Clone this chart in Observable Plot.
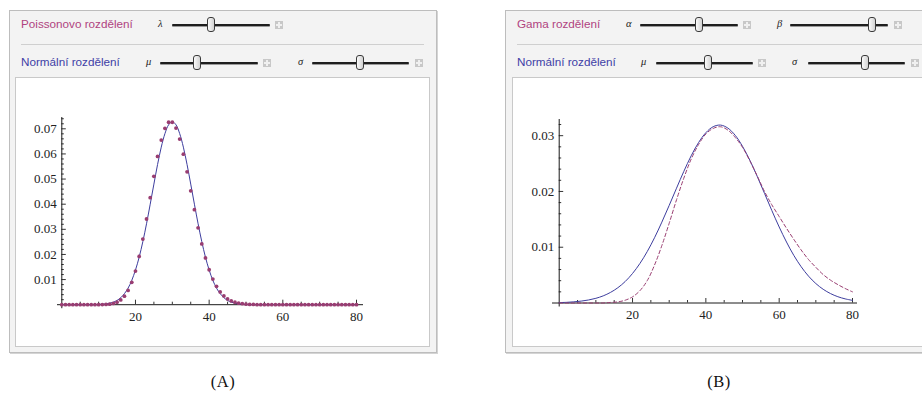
<!DOCTYPE html>
<html><head><meta charset="utf-8">
<script src="https://cdn.jsdelivr.net/npm/d3@7"></script>
<script src="https://cdn.jsdelivr.net/npm/@observablehq/plot@0.6"></script>
<style>
body{margin:0;background:#fff;}
#root{position:relative;width:922px;height:396px;overflow:hidden;font-family:"Liberation Sans",Arial,sans-serif;}
.panel{position:absolute;top:10px;background:#f3f3f3;border:1px solid #bdbdbd;box-shadow:1px 1px 0 #d4d4d4;}
.inner{position:absolute;background:#fff;border:1px solid #c9c9c9;}
.lbl{position:absolute;font-size:11.7px;line-height:14px;white-space:nowrap;}
.sym{position:absolute;font-family:"Liberation Serif",serif;font-style:italic;font-size:10.5px;line-height:12px;color:#222;}
.track{position:absolute;height:2px;background:#1e1e1e;border-radius:1px;box-shadow:0 1px 0 #9a9a9a;}
.thumb{position:absolute;width:6px;height:13px;border:1px solid #3a3a3a;border-radius:3px;background:linear-gradient(90deg,#fafafa,#d2d2d2);}
.plus{position:absolute;width:8px;height:8px;background:#c8c8c8;}
.plus:before{content:"";position:absolute;left:3px;top:1px;width:2px;height:6px;background:#f0f0f0;}
.plus:after{content:"";position:absolute;left:1px;top:3px;width:6px;height:2px;background:#f0f0f0;}
.sep{position:absolute;height:1px;background:#cfcfcf;}
.cap{position:absolute;font-family:"Liberation Serif",serif;font-size:16.5px;line-height:18px;color:#111;transform:translateX(-50%);letter-spacing:0.5px;}
.chart{position:absolute;}
</style></head>
<body><div id="root"></div>
<script>
// ---- data ----
const poissonK = d3.range(0, 81);
const poissonP = [0,0,0,0,0,0,0,0,0,0,
  0.00001,0.00004,0.0001,0.0002,0.0005,0.0010,0.0019,0.0034,0.0057,0.0089,
  0.0134,0.0192,0.0261,0.0341,0.0426,0.0511,0.0590,0.0655,0.0702,0.0726,
  0.0726,0.0703,0.0659,0.0599,0.0529,0.0453,0.0378,0.0306,0.0242,0.0186,
  0.0139,0.0102,0.0073,0.0051,0.0035,0.0023,0.0015,0.0010,0.0006,0.0004,
  0.0002,0.0001,0.0001,0,0,0,0,0,0,0,
  0,0,0,0,0,0,0,0,0,0,
  0,0,0,0,0,0,0,0,0,0,0];
const normalAX = d3.range(0, 81);
const normalAY = [0,0,0,0,0,0,0,0,0,0,
  0.0001,0.0002,0.0003,0.0006,0.0010,0.0017,0.0028,0.0044,0.0066,0.0097,
  0.0138,0.0189,0.0251,0.0322,0.0400,0.0480,0.0558,0.0627,0.0681,0.0716,
  0.0728,0.0716,0.0681,0.0627,0.0558,0.0480,0.0400,0.0322,0.0251,0.0189,
  0.0138,0.0097,0.0066,0.0044,0.0028,0.0017,0.0010,0.0006,0.0003,0.0002,
  0.0001,0,0,0,0,0,0,0,0,0,
  0,0,0,0,0,0,0,0,0,0,
  0,0,0,0,0,0,0,0,0,0,0];
const curveBX = d3.range(0, 81, 2);
const normalBY = [0.00007,0.00012,0.00021,0.00034,0.00054,0.00084,0.00128,0.00190,0.00274,0.00385,
  0.00529,0.00707,0.00921,0.01170,0.01450,0.01750,0.02058,0.02361,0.02639,0.02875,
  0.03053,0.03161,0.03190,0.03136,0.03007,0.02809,0.02559,0.02272,0.01966,0.01658,
  0.01363,0.01093,0.00853,0.00650,0.00482,0.00349,0.00246,0.00169,0.00113,0.00074,0.00047];
const gammaBY = [0,0,0,0,0,0,0,0.0001,0.0002,0.0005,
  0.0011,0.0022,0.0040,0.0068,0.0103,0.0143,0.0185,0.0224,0.0258,0.0284,
  0.0303,0.0313,0.0316,0.0310,0.0297,0.0279,0.0255,0.0228,0.0200,0.0176,
  0.0155,0.0134,0.0114,0.0095,0.0078,0.0064,0.0051,0.0041,0.0033,0.0026,0.0020];
const xMajor = [20, 40, 60, 80];
const xMinor = [5,10,15,25,30,35,45,50,55,65,70,75];
const yMajorA = [0.01,0.02,0.03,0.04,0.05,0.06,0.07];
const yMajorB = [0.01,0.02,0.03];
const captions = ["(A)", "(B)"];

const BLUE = "#3d3d9e", MAG = "#993d71";
const root = document.getElementById("root");
function el(cls, css, text){ const d=document.createElement("div"); d.className=cls; Object.assign(d.style, css); if(text!=null) d.textContent=text; root.appendChild(d); return d; }
function px(v){ return v + "px"; }
function slider(sym, symX, x1, x2, tx, plusX, cy){
  el("sym", {left:px(symX), top:px(cy-7)}, sym);
  el("track", {left:px(x1), top:px(cy-1), width:px(x2-x1)});
  el("thumb", {left:px(tx-4), top:px(cy-7.5)});
  el("plus", {left:px(plusX-4), top:px(cy-4)});
}
function minors(maxV){ const out=[]; for(let i=1;i*0.002<=maxV+1e-9;i++){ if(i%5!==0) out.push(+(i*0.002).toFixed(3)); } return out; }

// panels
el("panel", {left:"9px", width:"426px", height:"341px"});
el("inner", {left:"15px", top:"77px", width:"413px", height:"268px"});
el("panel", {left:"505px", width:"500px", height:"341px"});
el("inner", {left:"512px", top:"77px", width:"500px", height:"268px"});

// left controls
el("lbl", {left:"21px", top:"17px", color:"#b0437f"}, "Poissonovo rozdělení");
slider("λ", 158, 172, 270, 211, 278.5, 24.5);
el("sep", {left:"21px", top:"44px", width:"403px"});
el("lbl", {left:"21px", top:"55px", color:"#4040a6"}, "Normální rozdělení");
slider("μ", 146, 160, 258, 197, 266.5, 62.5);
slider("σ", 298, 312, 409, 360, 418.5, 62.5);

// right controls
el("lbl", {left:"517px", top:"17px", color:"#b0437f"}, "Gama rozdělení");
slider("α", 626, 640, 738, 699, 746.5, 24.5);
slider("β", 777, 790, 888, 872, 897.5, 24.5);
el("sep", {left:"517px", top:"44px", width:"420px"});
el("lbl", {left:"517px", top:"55px", color:"#4040a6"}, "Normální rozdělení");
slider("μ", 641, 656, 753, 708, 761.5, 62.5);
slider("σ", 792, 808, 905, 865, 914.5, 62.5);

el("cap", {left:"223px", top:"373px"}, captions[0]);
el("cap", {left:"719px", top:"373px"}, captions[1]);

function axes(yMajor, yMinor, ins){
  return [
    Plot.axisX({ticks:xMinor, tickSize:2.5, dy:-2.5, fill:"none", label:null, stroke:"#333"}),
    Plot.axisX({ticks:xMajor, tickSize:4.5, dy:-4.5, fill:"none", label:null, stroke:"#333"}),
    Plot.axisX({ticks:xMajor, tickSize:0, tickPadding:7, stroke:"none", label:null, tickFormat:d=>String(d)}),
    Plot.axisY({ticks:yMinor, tickSize:2.5, dx:2.5, fill:"none", label:null, stroke:"#333"}),
    Plot.axisY({ticks:yMajor, tickSize:4.5, dx:4.5, fill:"none", label:null, stroke:"#333"}),
    Plot.axisY({ticks:yMajor, tickSize:0, tickPadding:5, stroke:"none", label:null, tickFormat:d=>d.toFixed(2)}),
    Plot.ruleY([0], {insetLeft:ins[0], insetRight:ins[1], stroke:"#1a1a1a"}),
    Plot.ruleX([0], {insetBottom:-4, stroke:"#1a1a1a"})
  ];
}
const style = {fontFamily:"'Liberation Serif', serif", fontSize:"13px", color:"#222", background:"transparent", overflow:"visible"};

const dataA = poissonK.map((k,i)=>({x:k, y:poissonP[i]}));
const lineA = normalAX.map((x,i)=>({x, y:normalAY[i]}));
const chartA = Plot.plot({
  width:415, height:270, marginLeft:46.3, marginRight:74, marginTop:40, marginBottom:42.8,
  x:{domain:[0,80]}, y:{domain:[0,0.0745]}, style,
  marks:[
    ...axes(yMajorA, minors(0.0745), [-4.3,-7]),
    Plot.line(lineA, {x:"x", y:"y", stroke:BLUE, strokeWidth:1, curve:"catmull-rom"}),
    Plot.dot(dataA, {x:"x", y:"y", r:1.9, fill:MAG, stroke:"none"})
  ]
});
chartA.classList.add("chart"); chartA.style.left="15px"; chartA.style.top="77px";
root.appendChild(chartA);

const normB = curveBX.map((x,i)=>({x, y:normalBY[i]}));
const gamB = curveBX.map((x,i)=>({x, y:gammaBY[i]}));
const chartB = Plot.plot({
  width:410, height:270, marginLeft:46.7, marginRight:70, marginTop:42, marginBottom:44.5,
  x:{domain:[0,80]}, y:{domain:[0,0.0329]}, style,
  marks:[
    ...axes(yMajorB, minors(0.0329), [-6.7,-5]),
    Plot.line(normB, {x:"x", y:"y", stroke:BLUE, strokeWidth:1, curve:"catmull-rom"}),
    Plot.line(gamB, {x:"x", y:"y", stroke:MAG, strokeWidth:1, strokeDasharray:"3.5,2.5", curve:"catmull-rom"})
  ]
});
chartB.classList.add("chart"); chartB.style.left="512px"; chartB.style.top="77px";
root.appendChild(chartB);
</script>
</body></html>
